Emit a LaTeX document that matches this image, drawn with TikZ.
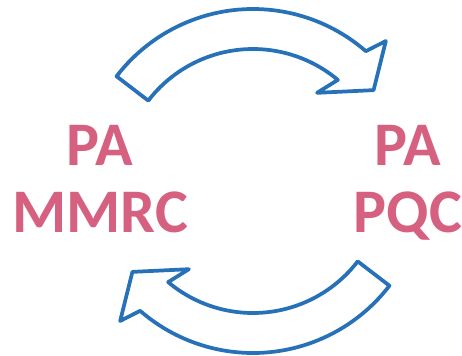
\documentclass[tikz,border=0pt]{standalone}
\usepackage{fontspec}
\setmainfont{Carlito}
\usepackage{tikz}
\definecolor{cycleblue}{RGB}{38,113,183}
\definecolor{cyclepink}{RGB}{214,96,128}

\begin{document}
\begin{tikzpicture}[x=0.75pt,y=0.75pt,
		blockarrow/.style={draw=cycleblue,fill=white,line width=2.8pt,line join=round},
		cycletext/.style={text=cyclepink,font=\fontsize{46.5}{50.25}\selectfont\bfseries,align=center,inner sep=0pt}]
	\useasboundingbox (-253,-174) rectangle (209,181);
	%
	% upper arrow, the lower one is the same turned half way round
	\foreach \turn in {0,180}{
		\draw[blockarrow,rotate=\turn] (142.5:172) arc[start angle=142.5,end angle=49,radius=172]
			-- (46.5:193) -- (37:151) -- (54:109) -- (50:132)
			arc[start angle=50,end angle=142.5,radius=132] -- cycle;
	}
	%
	\node[cycletext,anchor=base] (mmrc) at (-153,-51) {PA\\MMRC};
	\node[cycletext,anchor=base] (pqc) at (155,-51) {PA\\PQC};
\end{tikzpicture}
\end{document}
